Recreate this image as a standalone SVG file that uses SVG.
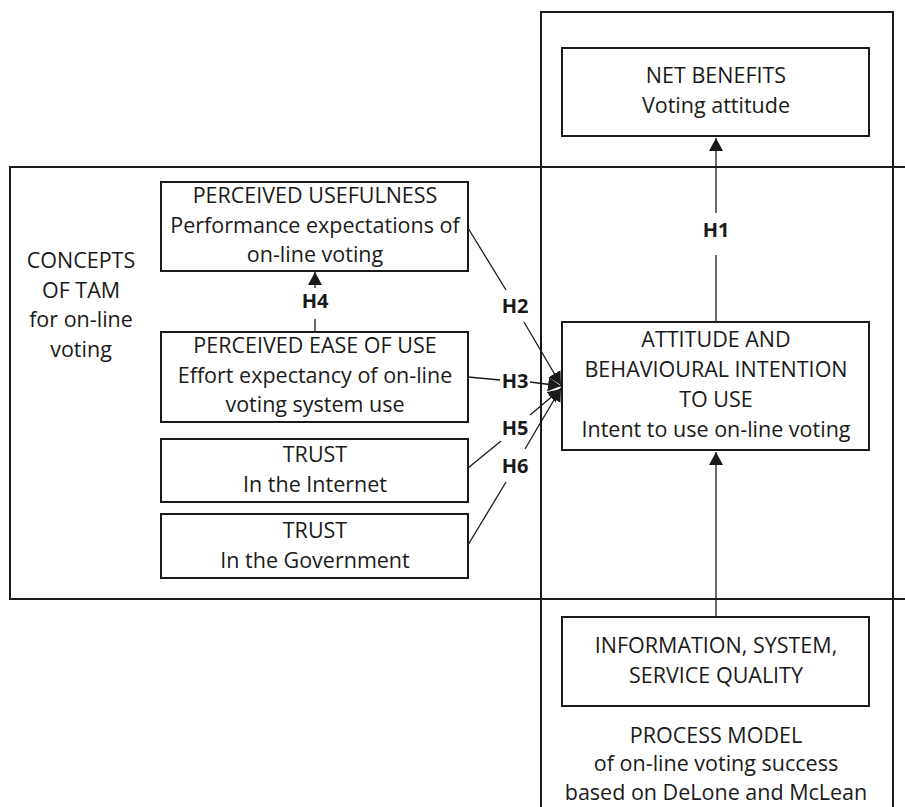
<svg xmlns="http://www.w3.org/2000/svg" width="905" height="807" viewBox="0 0 905 807">
<style>
.frame{fill:none;stroke:#1a1a1a;stroke-width:2}
.box{fill:#fff;stroke:#1a1a1a;stroke-width:2}
.t{font-family:"Open Sans","Noto Sans",sans-serif;font-size:21.5px;fill:#1a1a1a;text-anchor:middle}
.h{font-family:"Open Sans","Noto Sans",sans-serif;font-size:20px;font-weight:bold;fill:#1a1a1a;text-anchor:middle}
.c{fill:none;stroke:#1a1a1a;stroke-width:1.3}
</style>
<defs>
<marker id="ah" markerUnits="userSpaceOnUse" markerWidth="14" markerHeight="14" viewBox="0 0 14 14" refX="13" refY="7" orient="auto">
<path d="M0,0 L13,7 L0,14 Z" fill="#1a1a1a"/>
</marker>
</defs>
<rect width="905" height="807" fill="#fff"/>
<g id="process-frame">
<rect class="frame" x="541" y="12" width="352" height="820"/>
<text class="t" x="716" y="743">PROCESS MODEL</text>
<text class="t" x="716" y="771">of on-line voting success</text>
<text class="t" x="716" y="800">based on DeLone and McLean</text>
</g>
<g id="tam-frame">
<rect class="frame" x="10" y="167" width="920" height="432"/>
<text class="t" x="81" y="268">CONCEPTS</text>
<text class="t" x="81" y="298">OF TAM</text>
<text class="t" x="81" y="327">for on-line</text>
<text class="t" x="81" y="357">voting</text>
</g>
<g id="connectors">
<line class="c" x1="716" y1="213" x2="716" y2="138" marker-end="url(#ah)"/>
<line class="c" x1="716" y1="322" x2="716" y2="255"/>
<line class="c" x1="716" y1="617" x2="716" y2="452" marker-end="url(#ah)"/>
<line class="c" x1="315" y1="288" x2="315" y2="272" marker-end="url(#ah)"/>
<line class="c" x1="315" y1="332" x2="315" y2="319"/>
<line class="c" x1="468" y1="228" x2="506" y2="290"/>
<line class="c" x1="524" y1="322" x2="561" y2="385" marker-end="url(#ah)"/>
<line class="c" x1="468" y1="377" x2="500" y2="380"/>
<line class="c" x1="530" y1="382" x2="561" y2="386" marker-end="url(#ah)"/>
<line class="c" x1="468" y1="468" x2="501" y2="441"/>
<line class="c" x1="530" y1="415" x2="561" y2="389" marker-end="url(#ah)"/>
<line class="c" x1="468" y1="545" x2="506" y2="482"/>
<line class="c" x1="525" y1="449" x2="561" y2="388" marker-end="url(#ah)"/>
<text class="h" x="716" y="237">H1</text>
<text class="h" x="315" y="308">H4</text>
<text class="h" x="515" y="313">H2</text>
<text class="h" x="515" y="388">H3</text>
<text class="h" x="515" y="435">H5</text>
<text class="h" x="515" y="473">H6</text>
</g>
<g id="net-benefits">
<rect class="box" x="562" y="48" width="307" height="88"/>
<text class="t" x="716" y="83">NET BENEFITS</text>
<text class="t" x="716" y="113">Voting attitude</text>
</g>
<g id="attitude">
<rect class="box" x="562" y="322" width="307" height="128"/>
<text class="t" x="716" y="347">ATTITUDE AND</text>
<text class="t" x="716" y="377">BEHAVIOURAL INTENTION</text>
<text class="t" x="716" y="407">TO USE</text>
<text class="t" x="716" y="437">Intent to use on-line voting</text>
</g>
<g id="quality">
<rect class="box" x="562" y="617" width="307" height="89"/>
<text class="t" x="716" y="653">INFORMATION, SYSTEM,</text>
<text class="t" x="716" y="683">SERVICE QUALITY</text>
</g>
<g id="usefulness">
<rect class="box" x="161" y="182" width="307" height="89"/>
<text class="t" x="315" y="203">PERCEIVED USEFULNESS</text>
<text class="t" x="315" y="233">Performance expectations of</text>
<text class="t" x="315" y="262">on-line voting</text>
</g>
<g id="ease-of-use">
<rect class="box" x="161" y="332" width="307" height="90"/>
<text class="t" x="315" y="353">PERCEIVED EASE OF USE</text>
<text class="t" x="315" y="383">Effort expectancy of on-line</text>
<text class="t" x="315" y="412">voting system use</text>
</g>
<g id="trust-internet">
<rect class="box" x="161" y="439" width="307" height="63"/>
<text class="t" x="315" y="462">TRUST</text>
<text class="t" x="315" y="492">In the Internet</text>
</g>
<g id="trust-government">
<rect class="box" x="161" y="514" width="307" height="64"/>
<text class="t" x="315" y="538">TRUST</text>
<text class="t" x="315" y="568">In the Government</text>
</g>
</svg>
